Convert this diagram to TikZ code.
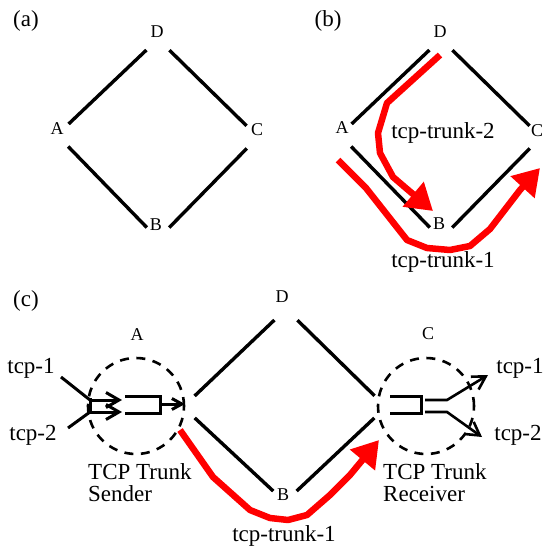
\documentclass[tikz,border=0pt]{standalone}
\usepackage{fontspec}
\setmainfont{Liberation Serif}
\usetikzlibrary{arrows.meta}
\begin{document}
\begin{tikzpicture}[x=1pt,y=-1pt,
  big/.style={font=\fontsize{23}{22}\selectfont, inner sep=0pt},
  vlab/.style={font=\fontsize{18}{19}\selectfont, inner sep=0pt},
  edge/.style={line width=3.4pt, shorten >=16pt, shorten <=16pt},
  trunk/.style={red, line width=6.5pt, line join=round, -{Triangle[length=26pt,width=31pt]}},
  ring/.style={line width=2.6pt, dash pattern=on 9pt off 7.5pt},
  thinl/.style={line width=3pt},
  outl/.style={line width=2.6pt},
  barb/.style={-{Straight Barb[length=13pt,width=15pt]}},
  smallbarb/.style={-{Straight Barb[length=10pt,width=11pt]}},
]
\useasboundingbox (0,0) rectangle (547,549);

% ---------- panel (a)
\node[big] (la) at (26,21) {(a)};
\coordinate (aD) at (158,39);
\coordinate (aA) at (57,135);
\coordinate (aB) at (158,239);
\coordinate (aC) at (258,137);
\node[vlab] (aDl) at (157,32) {D};
\node[vlab] (aAl) at (57,129) {A};
\node[vlab] (aCl) at (257,130) {C};
\node[vlab] (aBl) at (156,225) {B};
\draw[edge] (aD) -- (aA);
\draw[edge] (aD) -- (aC);
\draw[edge] (aA) -- (aB);
\draw[edge] (aB) -- (aC);

% ---------- panel (b)
\node[big] (lb) at (328,21) {(b)};
\coordinate (bD) at (441,39);
\coordinate (bA) at (340,135);
\coordinate (bB) at (441,239);
\coordinate (bC) at (541,137);
\node[vlab] (bDl) at (440,32) {D};
\node[vlab] (bAl) at (342,128) {A};
\node[vlab] (bCl) at (537,131) {C};
\node[vlab] (bBl) at (439,224) {B};
\draw[edge] (bD) -- (bA);
\draw[edge] (bD) -- (bC);
\draw[edge] (bA) -- (bB);
\draw[edge] (bB) -- (bC);
\node[big] (bt2) at (443,133) {tcp-trunk-2};
\node[big] (bt1) at (443,262) {tcp-trunk-1};
\coordinate (b2s) at (440,55);
\coordinate (b2e) at (433,211);
\draw[trunk] (b2s) -- (387,103) -- (378,133) -- (380,153) -- (393,177) -- (407,189) -- (b2e);
\coordinate (b1s) at (338,160);
\coordinate (b1e) at (540,168);
\draw[trunk] (b1s) -- (366,188) -- (407,240) -- (427,248) -- (450,250) -- (470,246) -- (490,229) -- (520,190) -- (b1e);

% ---------- panel (c)
\node[big] (lc) at (26,301) {(c)};
\coordinate (cD) at (286,309);
\coordinate (cA) at (183,407);
\coordinate (cB) at (285,502);
\coordinate (cC) at (386,407);
\node[vlab] (cDl) at (282,297) {D};
\node[vlab] (cAl) at (137,335) {A};
\node[vlab] (cCl) at (428,334) {C};
\node[vlab] (cBl) at (283,495) {B};
\draw[edge] (cD) -- (cA);
\draw[edge] (cD) -- (cC);
\draw[edge] (cA) -- (cB);
\draw[edge] (cB) -- (cC);

% sender
\coordinate (ringA) at (136,406);
\draw[ring] (ringA) circle[radius=48pt];
\node[big] (tin1) at (31,368) {tcp-1};
\node[big] (tin2) at (33,435) {tcp-2};
\coordinate (inA1) at (90,400);
\coordinate (inA2) at (90,412);
\coordinate (t1s) at (61,377);
\coordinate (t2s) at (68,428);
\draw[thinl] (t1s) -- (inA1);
\draw[thinl] (t2s) -- (inA2);
\draw[thinl] (90,398) -- (90,414);
\draw[thinl, barb] (inA1) -- (122,400);
\draw[thinl, barb] (inA2) -- (122,412);
\draw[thinl] (125,396) -- (160,396) -- (160,413) -- (125,413);
\draw[thinl, smallbarb] (160,404) -- (185,404);
\node[big, anchor=north west, align=left] (snd) at (88,463) {TCP Trunk\\Sender};

% receiver
\coordinate (ringC) at (426,406);
\draw[ring] (ringC) circle[radius=48pt];
\node[big] (tout1) at (520,368) {tcp-1};
\node[big] (tout2) at (518,435) {tcp-2};
\draw[thinl] (390,396) -- (421,396) -- (421,413) -- (390,413);
\coordinate (o1e) at (488,375);
\coordinate (o2e) at (482,437);
\draw[outl, barb] (425,400) -- (447,400) -- (o1e);
\draw[outl, barb] (425,412) -- (447,412) -- (o2e);
\node[big, anchor=north west, align=left] (rcv) at (383,463) {TCP Trunk\\Receiver};

% trunk in (c)
\node[big] (ct1) at (284,536) {tcp-trunk-1};
\coordinate (c1s) at (180,430);
\coordinate (c1e) at (379,440);
\draw[trunk] (c1s) -- (213,477) -- (250,510) -- (270,518) -- (288,520) -- (307,515) -- (330,495) -- (350,475) -- (c1e);
\end{tikzpicture}
\end{document}
